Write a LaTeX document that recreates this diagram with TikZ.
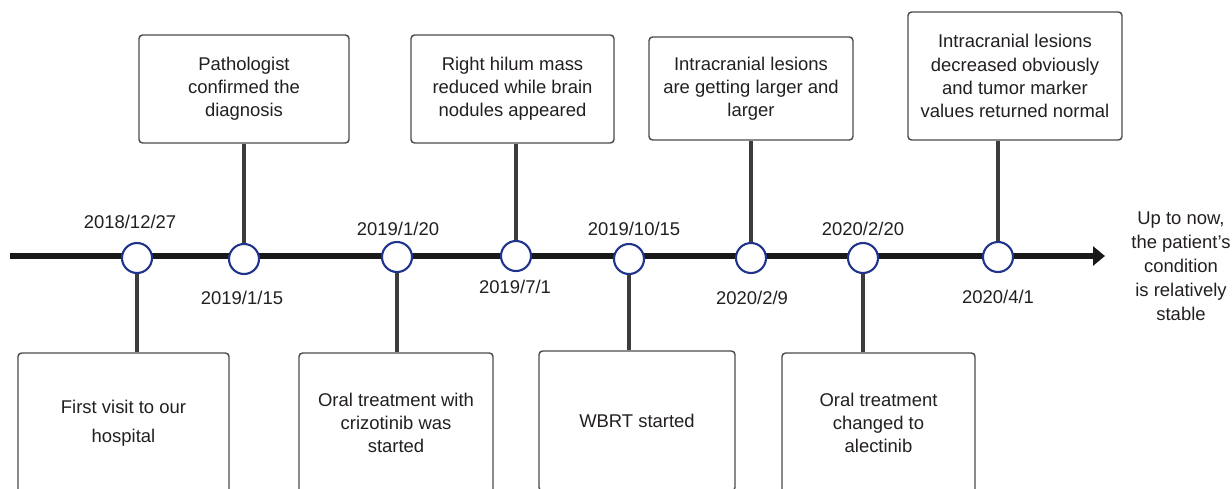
\documentclass[tikz,border=0pt]{standalone}
\usepackage{fontspec}
\setmainfont{Liberation Sans}
\usetikzlibrary{arrows.meta}
\usetikzlibrary{positioning}
\definecolor{ringblue}{RGB}{32,52,140}
\definecolor{stemgray}{RGB}{60,60,60}
\definecolor{boxgray}{RGB}{75,75,75}
\definecolor{inkgray}{RGB}{35,31,32}

\begin{document}
\begin{tikzpicture}
	[x=0.02cm, y=-0.02cm,
	> = {Triangle[length=2.4mm,width=3.8mm]},
	every node/.style={font=\fontsize{10.5}{13.2}\selectfont, text=inkgray},
	event/.style = {draw=ringblue, fill=white, circle, line width=1.2pt, minimum size=6mm, inner sep=0pt},
	stem/.style = {stemgray, line width=2.8pt},
	card/.style = {draw=boxgray, line width=0.8pt, rounded corners=2pt, fill=white, align=center, inner sep=2pt},
	date/.style = {inner sep=1pt}
	]
	\clip (0,0) rectangle (1232,488);

	% time axis
	\coordinate (start) at (10,256);
	\coordinate (end) at (1105,256);
	\draw[->, line width=3.4pt, black!90] (start) -- (end);

	% events on the axis
	\node[event] (e1) at (137,258) {};
	\node[event] (e2) at (244,259) {};
	\node[event] (e3) at (397,257) {};
	\node[event] (e4) at (516,256) {};
	\node[event] (e5) at (629,259) {};
	\node[event] (e6) at (751,258) {};
	\node[event] (e7) at (863,258) {};
	\node[event] (e8) at (998,257) {};

	% dates
	\node[date] (d1) at (130,222) {2018/12/27};
	\node[date] (d2) at (242,298) {2019/1/15};
	\node[date] (d3) at (398,229) {2019/1/20};
	\node[date] (d4) at (515,287) {2019/7/1};
	\node[date] (d5) at (634,229) {2019/10/15};
	\node[date] (d6) at (752,298) {2020/2/9};
	\node[date] (d7) at (863,229) {2020/2/20};
	\node[date] (d8) at (998,297) {2020/4/1};

	% upper boxes
	\node[card, minimum width=4.2cm, minimum height=2.16cm] (t1) at (244,89)
		{Pathologist\\confirmed the\\diagnosis};
	\node[card, minimum width=4.06cm, minimum height=2.16cm] (t2) at (512.5,89)
		{Right hilum mass\\reduced while brain\\nodules appeared};
	\node[card, minimum width=4.08cm, minimum height=2.06cm] (t3) at (751,88.5)
		{Intracranial lesions\\are getting larger and\\larger};
	\node[card, minimum width=4.28cm, minimum height=2.56cm] (t4) at (1015,76)
		{Intracranial lesions\\decreased obviously\\and tumor marker\\values returned normal};

	% lower boxes
	\node[card, minimum width=4.22cm, minimum height=2.8cm] (b1) at (123.5,423)
		{First visit to our\\[3.4pt]hospital};
	\node[card, minimum width=3.88cm, minimum height=2.8cm] (b2) at (396,423)
		{Oral treatment with\\crizotinib was\\started};
	\node[card, minimum width=3.92cm, minimum height=2.8cm] (b3) at (637,421)
		{WBRT started};
	\node[card, minimum width=3.86cm, minimum height=2.8cm] (b4) at (878.5,423)
		{Oral treatment\\changed to\\alectinib};

	% stems
	\draw[stem] (e2.north) -- (e2.north |- t1.south);
	\draw[stem] (e4.north) -- (e4.north |- t2.south);
	\draw[stem] (e6.north) -- (e6.north |- t3.south);
	\draw[stem] (e8.north) -- (e8.north |- t4.south);
	\draw[stem] (e1.south) -- (e1.south |- b1.north);
	\draw[stem] (e3.south) -- (e3.south |- b2.north);
	\draw[stem] (e5.south) -- (e5.south |- b3.north);
	\draw[stem] (e7.south) -- (e7.south |- b4.north);

	\node[align=center, font=\fontsize{10.5}{13.6}\selectfont] (status) at (1181,266)
		{Up to now,\\the patient's\\condition\\is relatively\\stable};
\end{tikzpicture}
\end{document}
